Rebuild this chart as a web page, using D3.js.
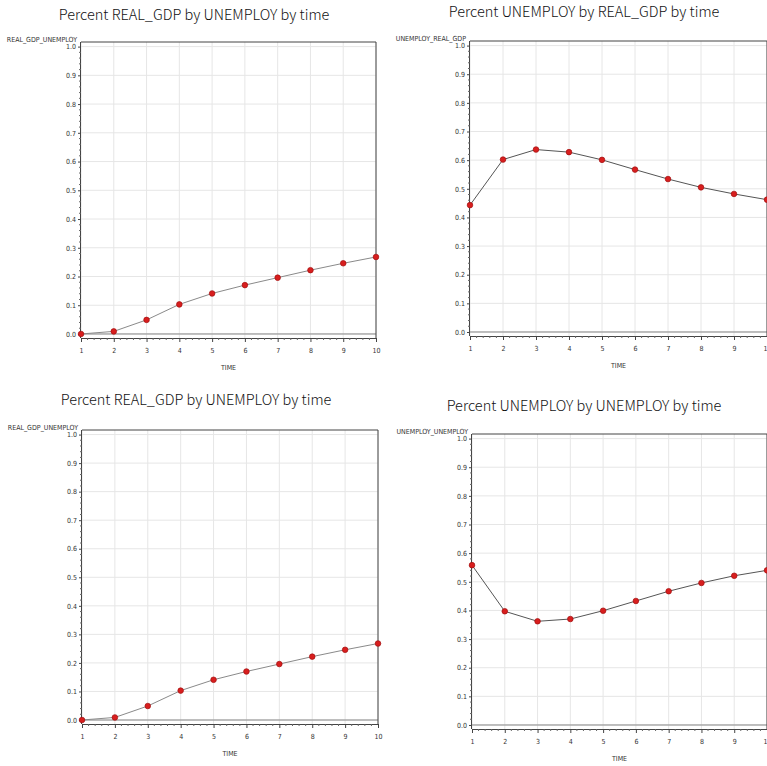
<!DOCTYPE html>
<html>
<head>
<meta charset="utf-8">
<script src="https://cdn.jsdelivr.net/npm/d3@7"></script>
<style>
  html, body { margin: 0; padding: 0; background: #fff; }
  svg { display: block; }
  .tick-label { font-family: "DejaVu Sans Condensed", "Liberation Sans Narrow", "DejaVu Sans", sans-serif; font-size: 7px; fill: #333; }
  .title { font-family: "Noto Sans CJK KR", "Noto Sans", sans-serif; font-size: 14.5px; font-weight: 300; fill: #111; }
</style>
</head>
<body>
<svg id="chart" width="767" height="766"></svg>
<script>
// ---- data ----
const times = [1, 2, 3, 4, 5, 6, 7, 8, 9, 10];
const realGdpByUnemploy = [0.000, 0.009, 0.049, 0.103, 0.141, 0.170, 0.196, 0.222, 0.246, 0.268];
const unemployByRealGdp = [0.443, 0.602, 0.637, 0.628, 0.601, 0.567, 0.534, 0.505, 0.482, 0.462];
const realGdpByUnemploy2 = [0.000, 0.009, 0.049, 0.103, 0.141, 0.170, 0.196, 0.222, 0.246, 0.268];
const unemployByUnemploy = [0.558, 0.397, 0.362, 0.370, 0.399, 0.433, 0.467, 0.496, 0.521, 0.540];
const yTickValues = [0, 0.1, 0.2, 0.3, 0.4, 0.5, 0.6, 0.7, 0.8, 0.9, 1.0];
const titles = [
  "Percent REAL_GDP by UNEMPLOY by time",
  "Percent UNEMPLOY by REAL_GDP by time",
  "Percent REAL_GDP by UNEMPLOY by time",
  "Percent UNEMPLOY by UNEMPLOY by time"
];
const yLabels = ["REAL_GDP_UNEMPLOY", "UNEMPLOY_REAL_GDP", "REAL_GDP_UNEMPLOY", "UNEMPLOY_UNEMPLOY"];
const xLabel = "TIME";

// ---- layout (pixels) ----
const panels = [
  { values: realGdpByUnemploy,  left: 81,  right: 376, top: 42,  bottom: 338, titleX: 194, titleY: 20,  lineColor: "#8a8a8a" },
  { values: unemployByRealGdp,  left: 470, right: 767, top: 41,  bottom: 336, titleX: 584, titleY: 17,  lineColor: "#555" },
  { values: realGdpByUnemploy2, left: 82,  right: 378, top: 430, bottom: 724, titleX: 196, titleY: 405, lineColor: "#8a8a8a" },
  { values: unemployByUnemploy, left: 472, right: 767, top: 434, bottom: 729, titleX: 584, titleY: 411, lineColor: "#555" }
];
const yDomain = [-0.014, 1.016];

const svg = d3.select("#chart");

panels.forEach((p, i) => {
  const g = svg.append("g");
  const x = d3.scaleLinear().domain([1, 10]).range([p.left, p.right]);
  const y = d3.scaleLinear().domain(yDomain).range([p.bottom, p.top]);

  // grid
  g.append("g").selectAll("line.hg").data(yTickValues).join("line")
    .attr("x1", p.left).attr("x2", p.right)
    .attr("y1", d => y(d)).attr("y2", d => y(d))
    .attr("stroke", "#e6e6e6").attr("stroke-width", 1);
  g.append("g").selectAll("line.vg").data(times).join("line")
    .attr("x1", d => x(d)).attr("x2", d => x(d))
    .attr("y1", p.top).attr("y2", p.bottom)
    .attr("stroke", "#e6e6e6").attr("stroke-width", 1);

  // zero reference line
  g.append("line")
    .attr("x1", p.left).attr("x2", p.right)
    .attr("y1", y(0)).attr("y2", y(0))
    .attr("stroke", "#888").attr("stroke-width", 1);

  // frame: top and right
  g.append("line").attr("x1", p.left).attr("x2", p.right).attr("y1", p.top).attr("y2", p.top)
    .attr("stroke", "#444").attr("stroke-width", 1);
  g.append("line").attr("x1", p.right).attr("x2", p.right).attr("y1", p.top).attr("y2", p.bottom)
    .attr("stroke", "#444").attr("stroke-width", 1);

  // y axis
  const yAxis = d3.axisLeft(y).tickValues(yTickValues).tickFormat(d3.format(".1f")).tickSize(3).tickPadding(2);
  const ya = g.append("g").attr("transform", `translate(${p.left},0)`).call(yAxis);
  ya.select(".domain").attr("stroke", "#444").attr("d", `M-0.5,${p.top}V${p.bottom}`);
  ya.selectAll(".tick line").attr("stroke", "#444");
  ya.selectAll(".tick text").attr("class", "tick-label").attr("font-size", null).attr("font-family", null).attr("fill", "#333");
  // y minor ticks
  const yMinor = d3.range(0, 1.0001, 0.02).filter(v => Math.abs(Math.round(v * 10) - v * 10) > 1e-6);
  g.append("g").selectAll("line").data(yMinor).join("line")
    .attr("x1", p.left - 2).attr("x2", p.left)
    .attr("y1", d => y(d)).attr("y2", d => y(d))
    .attr("stroke", "#666").attr("stroke-width", 1);

  // x axis
  const xAxis = d3.axisBottom(x).tickValues(times).tickFormat(d3.format("d")).tickSize(4).tickPadding(6);
  const xa = g.append("g").attr("transform", `translate(0,${p.bottom})`).call(xAxis);
  xa.select(".domain").attr("stroke", "#444").attr("d", `M${p.left},0.5H${p.right}`);
  xa.selectAll(".tick line").attr("stroke", "#444");
  xa.selectAll(".tick text").attr("class", "tick-label").attr("font-size", null).attr("font-family", null).attr("fill", "#333");
  const xMinor = d3.range(1, 10.0001, 0.2).filter(v => Math.abs(Math.round(v) - v) > 1e-6);
  g.append("g").selectAll("line").data(xMinor).join("line")
    .attr("x1", d => x(d)).attr("x2", d => x(d))
    .attr("y1", p.bottom).attr("y2", p.bottom + 2)
    .attr("stroke", "#666").attr("stroke-width", 1);

  // x label
  g.append("text").attr("class", "tick-label")
    .attr("x", x(5.5)).attr("y", p.bottom + 32)
    .attr("text-anchor", "middle").text(xLabel);

  // y label
  g.append("text").attr("class", "tick-label")
    .attr("x", p.left - 4).attr("y", p.top - 0.5)
    .attr("text-anchor", "end").text(yLabels[i]);

  // title
  g.append("text").attr("class", "title")
    .attr("x", p.titleX).attr("y", p.titleY)
    .attr("text-anchor", "middle").text(titles[i]);

  // series line
  const line = d3.line().x((d, j) => x(times[j])).y(d => y(d));
  g.append("path").datum(p.values)
    .attr("d", line).attr("fill", "none")
    .attr("stroke", p.lineColor).attr("stroke-width", 1);

  // markers
  g.append("g").selectAll("circle").data(p.values).join("circle")
    .attr("cx", (d, j) => x(times[j])).attr("cy", d => y(d))
    .attr("r", 2.8).attr("fill", "#d81e1e").attr("stroke", "#a01010").attr("stroke-width", 0.7);
});
</script>
</body>
</html>
